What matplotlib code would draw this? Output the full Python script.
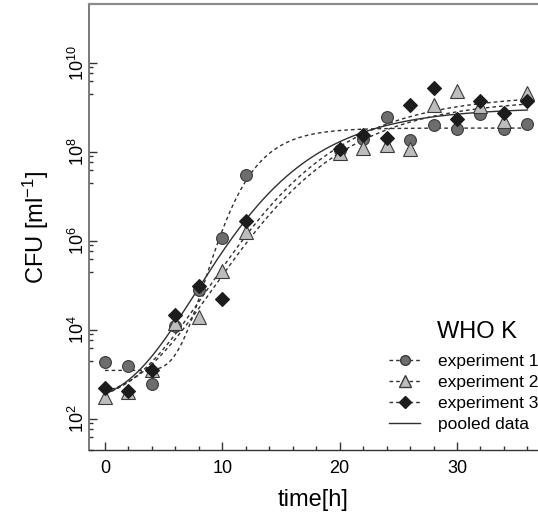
import matplotlib

matplotlib.use("Agg")
import matplotlib.pyplot as plt
import numpy as np
from matplotlib.lines import Line2D

plt.rcParams["font.family"] = ["Liberation Sans", "DejaVu Sans"]
plt.rcParams["mathtext.fontset"] = "custom"
plt.rcParams["mathtext.rm"] = "Liberation Sans"
plt.rcParams["mathtext.it"] = "Liberation Sans:italic"

# sampling times (h)
time_h = [0, 2, 4, 6, 8, 10, 12, 20, 22, 24, 26, 28, 30, 32, 34, 36]

# log10 CFU/ml
exp1_log = [3.28, 3.19, 2.79, 4.09, 4.91, 6.07, 7.48, 8.04, 8.30, 8.80, 8.28, 8.60, 8.53, 8.86, 8.53, 8.63]
exp2_log = [2.50, 2.61, 3.09, 4.15, 4.30, 5.33, 6.20, 7.97, 8.09, 8.15, 8.07, 9.06, 9.38, 9.04, 8.70, 9.33]
exp3_log = [2.70, 2.63, 3.09, 4.33, 5.00, 4.69, 6.46, 8.07, 8.38, 8.32, 9.06, 9.43, 8.75, 9.15, 8.89, 9.15]

# Gompertz fit parameters (log10 units): lower asymptote, increase, rate, inflection time
fit_names = ["experiment 1", "experiment 2", "experiment 3", "pooled data"]
fit_A = [3.09, 2.40, 2.50, 2.40]
fit_C = [5.45, 6.90, 6.70, 6.60]
fit_B = [0.40, 0.15, 0.15, 0.17]
fit_M = [8.5, 8.8, 9.3, 7.7]
fit_t0 = [0.0, 0.0, 0.0, 0.2]


def gompertz(t, a, c, b, m):
    return a + c * np.exp(-np.exp(-b * (t - m)))


fig = plt.figure(figsize=(5.38, 5.23), dpi=100)
ax = fig.add_axes([89 / 538, 1 - 450 / 523, 1 - 89 / 538, (450 - 4) / 523])

line_kw = dict(color="#303030", linewidth=1.0)
dash = (0, (2.6, 2.2))

for i in range(4):
    tt = np.linspace(fit_t0[i], 36, 300)
    yy = 10 ** gompertz(tt, fit_A[i], fit_C[i], fit_B[i], fit_M[i])
    ls = "-" if i == 3 else dash
    ax.plot(tt, yy, linestyle=ls, zorder=2, **line_kw)

t = np.array(time_h)
ax.plot(t, 10 ** np.array(exp1_log), "o", ms=8.5, mfc="#6d6d6d", mec="#3a3a3a", mew=0.8, zorder=3)
ax.plot(t, 10 ** np.array(exp2_log), "^", ms=10, mfc="#bdbdbd", mec="#3a3a3a", mew=0.8, zorder=3)
ax.plot(t, 10 ** np.array(exp3_log), "D", ms=7.5, mfc="#1c1c1c", mec="#1c1c1c", mew=0.8, zorder=4)

ax.set_yscale("log")
ax.set_xlim(-1.36, 36.9)
ax.set_ylim(10 ** 1.63, 10 ** 11.33)

ax.set_xticks([0, 10, 20, 30])
ax.set_xticks([v for v in range(2, 37, 2) if v % 10], minor=True)
yt = [10 ** d for d in (2, 4, 6, 8, 10)]
ax.set_yticks(yt)
ax.set_yticklabels([f"$10^{{{d}}}$" for d in (2, 4, 6, 8, 10)], rotation=90, va="center")
ax.set_yticks([m * 10 ** d for d in (1, 3, 5, 7, 9) for m in (2, 4, 6, 8)], minor=True)
ax.yaxis.set_minor_formatter(matplotlib.ticker.NullFormatter())

ax.tick_params(which="both", direction="in", labelsize=13, color="#333333")
ax.tick_params(which="major", length=6, width=1.0)
ax.tick_params(which="minor", length=3, width=1.0)
ax.tick_params(axis="x", pad=7)
ax.tick_params(axis="y", pad=1)

ax.spines["right"].set_visible(False)
ax.spines["top"].set_color("#8c8c8c")
ax.spines["top"].set_linewidth(1.6)
ax.spines["left"].set_color("#7a7a7a")
ax.spines["left"].set_linewidth(1.4)
ax.spines["bottom"].set_color("#333333")
ax.spines["bottom"].set_linewidth(1.0)

ax.set_xlabel("time[h]", fontsize=17, labelpad=9)
ax.set_ylabel("CFU [ml$^{-1}$]", fontsize=17, labelpad=12)

handles = [
    Line2D([], [], linestyle=dash, marker="o", ms=7, mfc="#6d6d6d", mec="#3a3a3a", **line_kw),
    Line2D([], [], linestyle=dash, marker="^", ms=8, mfc="#bdbdbd", mec="#3a3a3a", **line_kw),
    Line2D([], [], linestyle=dash, marker="D", ms=6, mfc="#1c1c1c", mec="#1c1c1c", **line_kw),
    Line2D([], [], linestyle="-", **line_kw),
]
leg = ax.legend(handles, fit_names, loc="lower right", bbox_to_anchor=(1.035, 0.005),
                frameon=False, fontsize=12.5, handlelength=1.8, handletextpad=1.0,
                labelspacing=0.33)
ax.text(0.775, 0.24, "WHO K", transform=ax.transAxes, fontsize=17, ha="left", va="bottom")

fig.savefig("out.png", dpi=100)
